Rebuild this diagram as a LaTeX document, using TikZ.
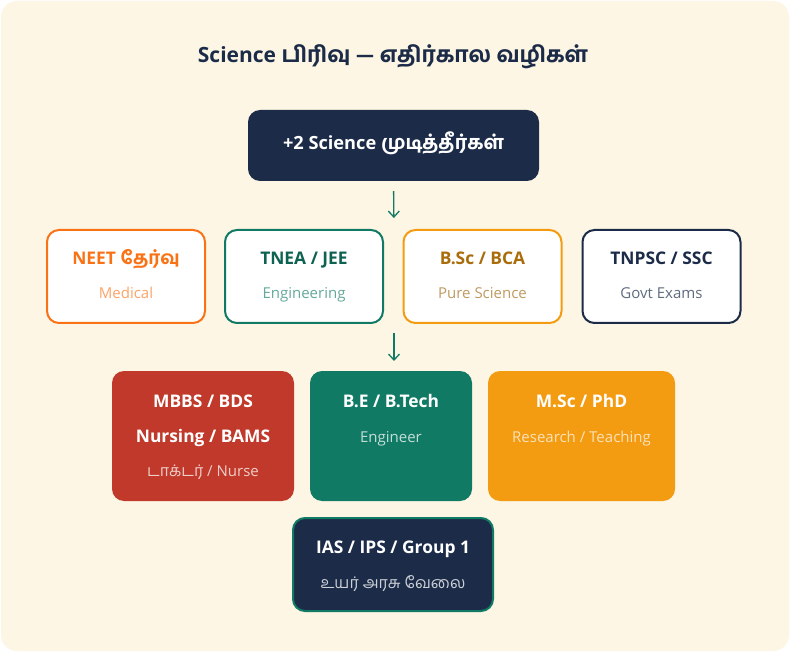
\documentclass[tikz,border=0pt]{standalone}
\usepackage{fontspec}
\setmainfont{Open Sans}
\newfontfamily\ta[Script=Tamil]{Hind Madurai}
\newfontfamily\tab[Script=Tamil]{Hind Madurai Bold}
\usetikzlibrary{arrows.meta}
\definecolor{cream}{HTML}{FDF6E4}
\definecolor{navy}{HTML}{1B2B48}
\definecolor{orng}{HTML}{F97316}
\definecolor{tealc}{HTML}{117A65}
\definecolor{ambr}{HTML}{F39C12}
\definecolor{redc}{HTML}{C0392B}
\tikzset{
  ttl/.style={anchor=base, inner sep=0pt, font=\bfseries\fontsize{17.4}{20}\selectfont},
  subt/.style={anchor=base, inner sep=0pt, font=\fontsize{15}{17}\selectfont},
  card/.style={rounded corners=12pt, line width=2pt, fill=white, minimum width=158pt, minimum height=93pt, inner sep=0pt},
  fullbox/.style={rounded corners=12pt, inner sep=0pt, minimum height=130pt},
  arr/.style={draw=tealc, line width=1.3pt, -{Straight Barb[length=6pt,width=11pt,line width=1.3pt]}}
}
\begin{document}
\begin{tikzpicture}[x=1pt,y=-1pt]
\useasboundingbox (0,0) rectangle (790,652);
\fill[white] (0,0) rectangle (790,652);
\fill[cream, rounded corners=16pt] (1,1) rectangle (789,651);
% title
\node[anchor=base, inner sep=0pt, text=navy, font=\bfseries\fontsize{21}{24}\selectfont] (title) at (393,63) {Science {\tab\fontsize{22}{24}\selectfont பிரிவு — எதிர்கால வழிகள்}};
% top box
\node[fill=navy, rounded corners=12pt, minimum width=291pt, minimum height=71pt, inner sep=0pt] (top) at (393.5,145.5) {};
\node[anchor=base, inner sep=0pt, text=white, font=\bfseries\fontsize{18.2}{22}\selectfont] (toptxt) at (393.5,150) {+2 Science {\tab\fontsize{19.2}{22}\selectfont முடித்தீர்கள்}};
% arrow 1
\coordinate (r2gap) at (394,229);
\draw[arr, shorten <=10pt, shorten >=11pt] (top.south) -- (r2gap);
% row 2
\node[card, draw=orng] (neet) at (126,276.5) {};
\node[ttl, text=orng] (neett) at (126,265) {NEET {\tab\fontsize{18.4}{20}\selectfont தேர்வு}};
\node[subt, text=orng!65!white] (neets) at (126,299) {Medical};
\node[card, draw=tealc] (tnea) at (304,276.5) {};
\node[ttl, text=tealc!80!black] (tneat) at (304,265) {TNEA / JEE};
\node[subt, text=tealc!65!white] (tneas) at (304,299) {Engineering};
\node[card, draw=ambr] (bsc) at (482.5,276.5) {};
\node[ttl, text=ambr!70!black] (bsct) at (482.5,265) {B.Sc / BCA};
\node[subt, text=ambr!65!black!65!white] (bscs) at (482.5,299) {Pure Science};
\node[card, draw=navy] (tnpsc) at (661.5,276.5) {};
\node[ttl, text=navy] (tnpsct) at (661.5,265) {TNPSC / SSC};
\node[subt, text=navy!70!white] (tnpscs) at (661.5,299) {Govt Exams};
% arrow 2
\coordinate (r2low) at (394,324);
\coordinate (r3gap) at (394,371);
\draw[arr, shorten <=9pt, shorten >=10pt] (r2low) -- (r3gap);
% row 3
\node[fullbox, fill=redc, minimum width=182pt] (mbbs) at (203,436) {};
\node[ttl, text=white] (mbbst1) at (203,407) {MBBS / BDS};
\node[ttl, text=white] (mbbst2) at (203,442) {Nursing / BAMS};
\node[subt, text=white!75!redc] (mbbss) at (203,476) {{\ta\fontsize{16}{17}\selectfont டாக்டர்} / Nurse};
\node[fullbox, fill=tealc, minimum width=162pt] (be) at (391,436) {};
\node[ttl, text=white] (bet) at (391,407) {B.E / B.Tech};
\node[subt, text=white!75!tealc] (bes) at (391,442) {Engineer};
\node[fullbox, fill=ambr, minimum width=187pt] (msc) at (581.5,436) {};
\node[ttl, text=white] (msct) at (581.5,407) {M.Sc / PhD};
\node[subt, text=white!70!ambr] (mscs) at (581.5,442) {Research / Teaching};
% bottom
\node[fill=navy, draw=tealc, line width=2pt, rounded corners=12pt, minimum width=200pt, minimum height=93pt, inner sep=0pt] (ias) at (393,564.5) {};
\node[ttl, text=white] (iast) at (393,553) {IAS / IPS / Group 1};
\node[subt, text=white!78!navy] (iass) at (393,588) {\ta\fontsize{16}{17}\selectfont உயர் அரசு வேலை};
\end{tikzpicture}
\end{document}
